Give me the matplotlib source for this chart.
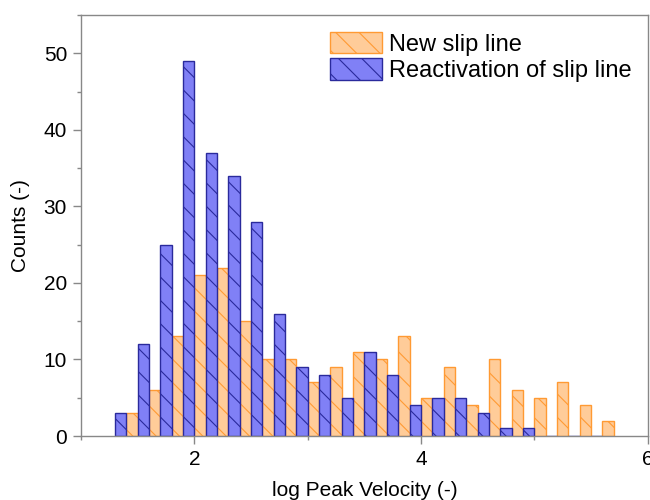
import numpy as np
import matplotlib
matplotlib.use("Agg")
import matplotlib.pyplot as plt
from matplotlib.ticker import MultipleLocator

# bin left edges of log peak velocity, bin width 0.2
bin_left = [1.3, 1.5, 1.7, 1.9, 2.1, 2.3, 2.5, 2.7, 2.9, 3.1, 3.3,
            3.5, 3.7, 3.9, 4.1, 4.3, 4.5, 4.7, 4.9, 5.1, 5.3, 5.5]
new_counts = [3, 6, 13, 21, 22, 15, 10, 10, 7, 9, 11,
              10, 13, 5, 9, 4, 10, 6, 5, 7, 4, 2]
react_counts = [3, 12, 25, 49, 37, 34, 28, 16, 9, 8, 5,
                11, 8, 4, 5, 5, 3, 1, 1, 0, 0, 0]

# render at 70 dpi so the hatch spacing is tighter; S scales point sizes
DPI = 70
S = 100 / DPI

plt.rcParams['font.family'] = ['Liberation Sans', 'DejaVu Sans']
plt.rcParams['hatch.linewidth'] = 0.8 * S

bin_w = 0.2
x = np.array(bin_left)

fig = plt.figure(figsize=(650 / DPI, 500 / DPI), dpi=DPI)
ax = fig.add_axes([0.1246, 0.128, 0.872, 0.842])

ax.bar(x + bin_w / 2, new_counts, width=bin_w / 2, align='edge',
       facecolor='#ffcc99', edgecolor='#ff9a33', linewidth=1.0 * S,
       hatch='\\', label='New slip line')
ax.bar(x, react_counts, width=bin_w / 2, align='edge',
       facecolor='#8080f6', edgecolor='#2a2a9c', linewidth=1.0 * S,
       hatch='\\', label='Reactivation of slip line')

ax.set_xlim(1, 6)
ax.set_ylim(0, 55)
ax.xaxis.set_major_locator(MultipleLocator(2))
ax.xaxis.set_minor_locator(MultipleLocator(1))
ax.yaxis.set_major_locator(MultipleLocator(10))
ax.yaxis.set_minor_locator(MultipleLocator(5))

for s in ax.spines.values():
    s.set_color('#888888')
    s.set_linewidth(1.0 * S)
ax.tick_params(which='both', direction='out', colors='#888888', labelcolor='black',
               labelsize=15 * S, width=1.0 * S, pad=4 * S)
ax.tick_params(which='major', length=6 * S)
ax.tick_params(which='minor', length=3 * S)

ax.set_xlabel('log Peak Velocity (-)', fontsize=15 * S, labelpad=9 * S)
ax.set_ylabel('Counts (-)', fontsize=15 * S, labelpad=10 * S)

ax.legend(loc='upper right', frameon=False, fontsize=17 * S,
          handlelength=2.2, handleheight=1.05, labelspacing=0.1,
          borderaxespad=0.4, handletextpad=0.3, borderpad=0.3)

fig.savefig('out.png', dpi=DPI)
